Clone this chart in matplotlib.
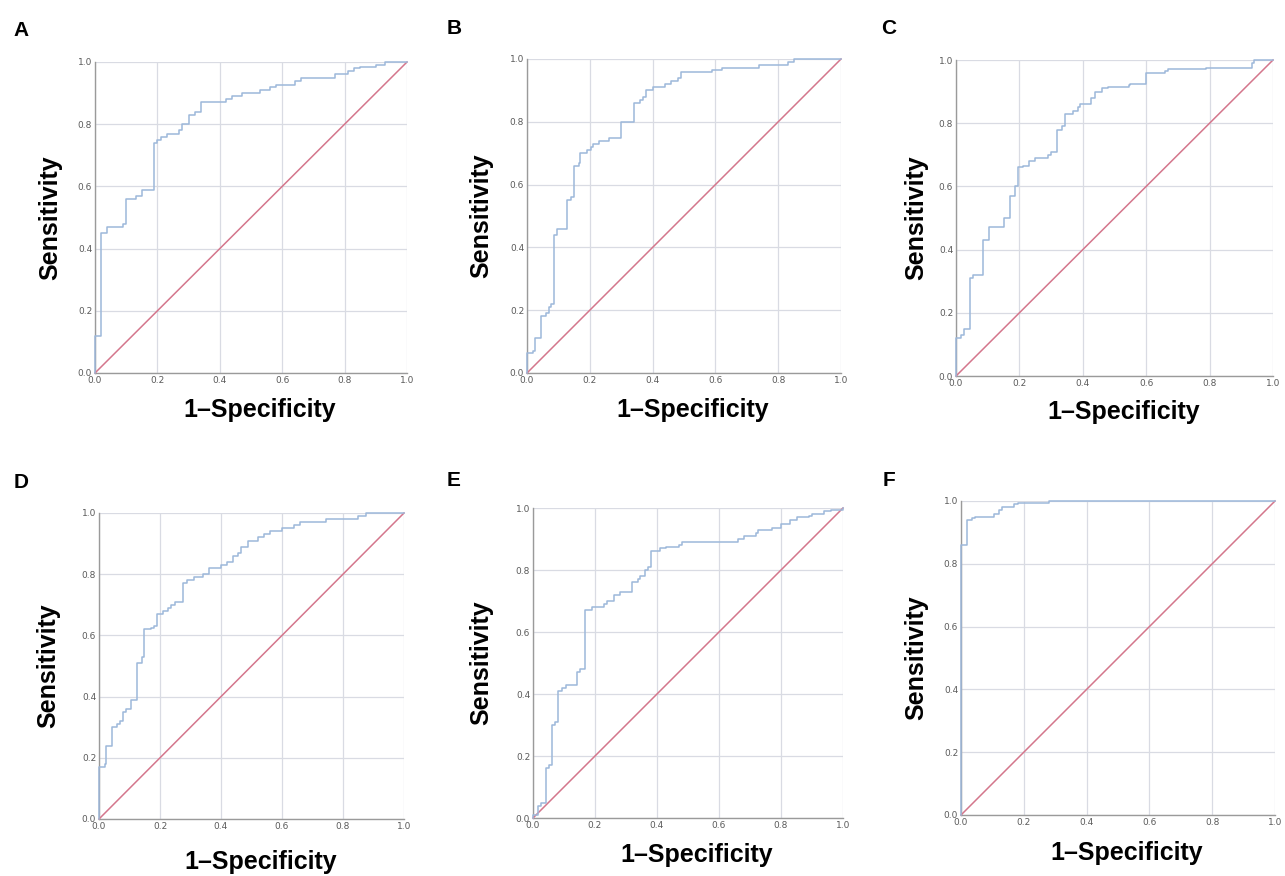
import matplotlib

matplotlib.use("Agg")
import matplotlib.pyplot as plt

# ROC step vertices (at each fpr the curve rises to tpr)
A_FPR = [0, 0, 0.02, 0.04, 0.09, 0.10, 0.13, 0.15, 0.19, 0.20, 0.21, 0.23, 0.27, 0.28, 0.30, 0.32,
         0.34, 0.42, 0.44, 0.47, 0.53, 0.56, 0.58, 0.64, 0.66, 0.77, 0.81, 0.83, 0.85, 0.90, 0.93, 1.0]
A_TPR = [0, 0.12, 0.45, 0.47, 0.48, 0.56, 0.57, 0.59, 0.74, 0.75, 0.76, 0.77, 0.78, 0.80, 0.83, 0.84,
         0.87, 0.88, 0.89, 0.90, 0.91, 0.92, 0.925, 0.94, 0.95, 0.96, 0.97, 0.98, 0.985, 0.99, 1.0, 1.0]

B_FPR = [0, 0, 0.02, 0.025, 0.045, 0.06, 0.07, 0.075, 0.085, 0.095, 0.127, 0.14, 0.15, 0.165, 0.17,
         0.19, 0.205, 0.21, 0.23, 0.26, 0.30, 0.34, 0.36, 0.37, 0.38, 0.40, 0.44, 0.46, 0.48, 0.49,
         0.59, 0.62, 0.74, 0.83, 0.85, 1.0]
B_TPR = [0, 0.065, 0.07, 0.11, 0.18, 0.19, 0.21, 0.22, 0.44, 0.46, 0.55, 0.56, 0.66, 0.67, 0.70,
         0.71, 0.72, 0.73, 0.74, 0.75, 0.80, 0.86, 0.87, 0.88, 0.90, 0.91, 0.92, 0.93, 0.94, 0.96,
         0.965, 0.97, 0.98, 0.99, 1.0, 1.0]

C_FPR = [0, 0, 0.015, 0.025, 0.045, 0.055, 0.085, 0.105, 0.15, 0.17, 0.185, 0.195, 0.21, 0.23, 0.25,
         0.29, 0.30, 0.32, 0.335, 0.345, 0.37, 0.385, 0.39, 0.425, 0.44, 0.46, 0.48, 0.545, 0.55,
         0.60, 0.66, 0.67, 0.79, 0.935, 0.94, 1.0]
C_TPR = [0, 0.12, 0.13, 0.15, 0.31, 0.32, 0.43, 0.47, 0.50, 0.57, 0.60, 0.66, 0.665, 0.68, 0.69,
         0.70, 0.71, 0.78, 0.79, 0.83, 0.84, 0.85, 0.86, 0.88, 0.90, 0.91, 0.915, 0.92, 0.925,
         0.96, 0.965, 0.97, 0.975, 0.99, 1.0, 1.0]

D_FPR = [0, 0, 0.02, 0.023, 0.043, 0.06, 0.07, 0.08, 0.09, 0.105, 0.126, 0.14, 0.148, 0.17, 0.18,
         0.19, 0.21, 0.225, 0.235, 0.25, 0.275, 0.29, 0.31, 0.34, 0.36, 0.40, 0.42, 0.44, 0.455,
         0.465, 0.49, 0.52, 0.54, 0.56, 0.60, 0.64, 0.66, 0.745, 0.85, 0.875, 1.0]
D_TPR = [0, 0.17, 0.18, 0.24, 0.30, 0.31, 0.32, 0.35, 0.36, 0.39, 0.51, 0.53, 0.62, 0.625, 0.63,
         0.67, 0.68, 0.69, 0.70, 0.71, 0.77, 0.78, 0.79, 0.80, 0.82, 0.83, 0.84, 0.86, 0.87,
         0.89, 0.91, 0.92, 0.93, 0.94, 0.95, 0.96, 0.97, 0.98, 0.99, 1.0, 1.0]

E_FPR = [0, 0, 0.015, 0.025, 0.041, 0.05, 0.06, 0.07, 0.081, 0.095, 0.105, 0.142, 0.15, 0.167, 0.19,
         0.23, 0.24, 0.26, 0.28, 0.32, 0.34, 0.345, 0.36, 0.37, 0.38, 0.41, 0.43, 0.47, 0.48, 0.66,
         0.68, 0.72, 0.725, 0.77, 0.80, 0.83, 0.85, 0.89, 0.90, 0.94, 0.96, 1.0]
E_TPR = [0, 0.01, 0.04, 0.05, 0.16, 0.17, 0.30, 0.31, 0.41, 0.42, 0.43, 0.47, 0.48, 0.67, 0.68,
         0.69, 0.70, 0.72, 0.73, 0.76, 0.77, 0.78, 0.80, 0.81, 0.86, 0.87, 0.875, 0.88, 0.89, 0.90,
         0.91, 0.92, 0.93, 0.935, 0.95, 0.96, 0.97, 0.975, 0.98, 0.99, 0.995, 1.0]

F_FPR = [0, 0, 0.02, 0.035, 0.045, 0.105, 0.12, 0.13, 0.17, 0.18, 0.28, 1.0]
F_TPR = [0, 0.86, 0.94, 0.945, 0.95, 0.96, 0.97, 0.98, 0.99, 0.995, 1.0, 1.0]

PANEL_LABELS = ["A", "B", "C", "D", "E", "F"]
PANEL_FPR = [A_FPR, B_FPR, C_FPR, D_FPR, E_FPR, F_FPR]
PANEL_TPR = [A_TPR, B_TPR, C_TPR, D_TPR, E_TPR, F_TPR]
TICKS = [0.0, 0.2, 0.4, 0.6, 0.8, 1.0]

W, H = 1285, 876
# axes boxes in pixels: left, right, top, bottom
BOXES = [
    (95, 407, 62, 373),
    (527, 841, 59, 373),
    (956, 1273, 60, 376),
    (99, 404, 513, 819),
    (533, 843, 508, 818),
    (961, 1275, 501, 815),
]
# panel letter, ylabel x, xlabel y (pixels)
LETTER_XY = [(21, 30), (454, 28), (889, 28), (21, 482), (454, 480), (889, 480)]
YLABEL_X = [50, 481, 916, 48, 481, 916]
XLABEL_Y = [410, 410, 412, 862, 855, 853]

BLUE = "#9db8da"
PINK = "#d4768c"
GRID = "#d9dbe3"
FONT = ["Liberation Sans", "DejaVu Sans"]

fig = plt.figure(figsize=(W / 100, H / 100), dpi=100)

for i, label in enumerate(PANEL_LABELS):
    l, r, t, b = BOXES[i]
    ax = fig.add_axes([l / W, 1 - b / H, (r - l) / W, (b - t) / H])
    ax.step(PANEL_FPR[i], PANEL_TPR[i], where="post", color=BLUE, linewidth=1.1,
            zorder=4, clip_on=False)
    ax.plot([0, 1], [0, 1], color=PINK, linewidth=1.1, zorder=3, clip_on=False)

    ax.set_xlim(0, 1)
    ax.set_ylim(0, 1)
    ax.set_xticks(TICKS)
    ax.set_yticks(TICKS)
    ax.set_xticklabels([f"{v:.1f}" for v in TICKS])
    ax.set_yticklabels([f"{v:.1f}" for v in TICKS])
    ax.tick_params(labelsize=6.5, labelcolor="#5a5a5a", length=0, pad=2)
    ax.grid(True, color=GRID, linewidth=0.9)
    ax.set_axisbelow(True)
    for side in ["top", "right"]:
        ax.spines[side].set_visible(False)
    for side in ["left", "bottom"]:
        ax.spines[side].set_color("#9a9a9a")
        ax.spines[side].set_linewidth(1.0)

    ax.set_ylabel("Sensitivity", fontsize=18, fontweight="bold", family=FONT)
    ax.set_xlabel("1\u2013Specificity", fontsize=18, fontweight="bold", family=FONT)
    ax.yaxis.set_label_coords((YLABEL_X[i] - l) / (r - l), 0.5)
    ax.xaxis.set_label_coords(0.5 + 9 / (r - l), (b - XLABEL_Y[i]) / (b - t))
    ax.xaxis.label.set_va("center")
    ax.yaxis.label.set_va("center")

    lx, ly = LETTER_XY[i]
    fig.text(lx / W, 1 - ly / H, label, fontsize=15, fontweight="bold", family=FONT,
             ha="center", va="center")

fig.savefig("out.png", dpi=100)
